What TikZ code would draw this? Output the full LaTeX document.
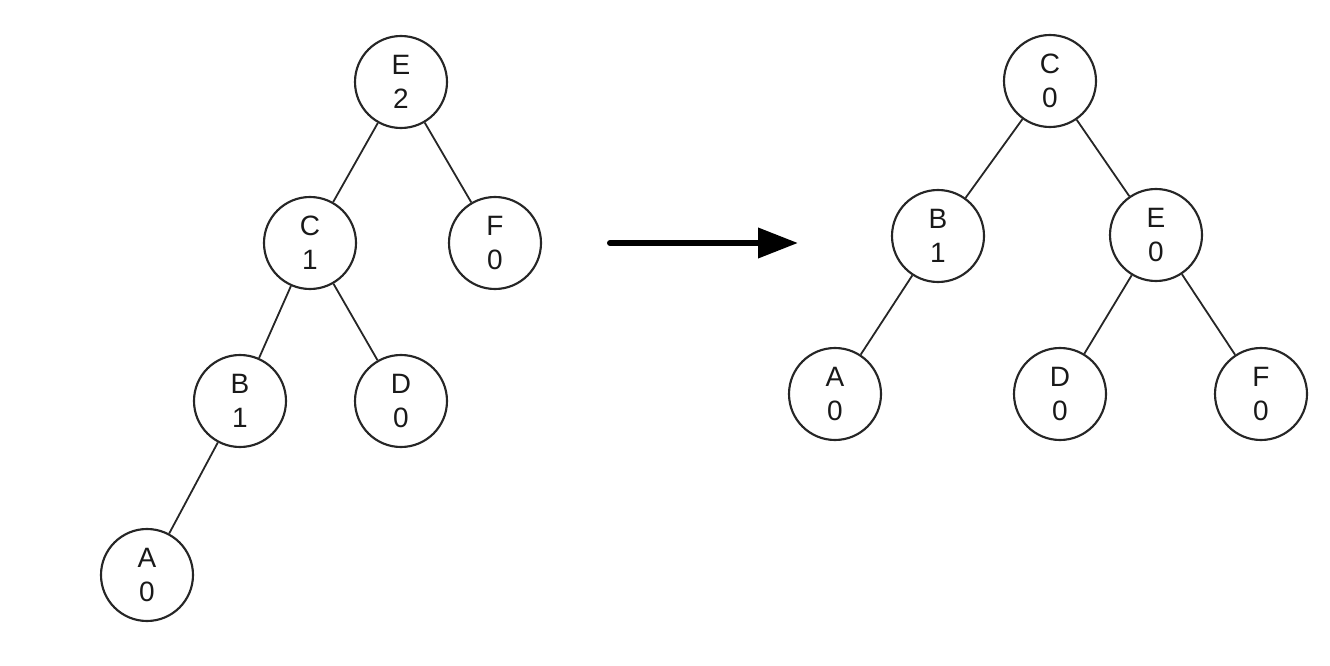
\documentclass[tikz,border=0pt]{standalone}
\usepackage{fontspec}
\setmainfont{Liberation Sans}
\usetikzlibrary{arrows.meta}
\begin{document}
\begin{tikzpicture}[x=0.75pt,y=-0.75pt,
  tnode/.style={circle,draw=black!85,line width=1.6pt,minimum size=69pt,inner sep=0pt,
    align=center,font=\fontsize{21}{25.5}\selectfont,text=black!90},
  tedge/.style={draw=black!85,line width=1.35pt},
  bigarrow/.style={line width=4.5pt,line cap=round,-{Triangle[length=30pt,width=22pt]}}]
\useasboundingbox (0,0) rectangle (1330,666);
% left tree
\node[tnode] (lE) at (401,82) {E\\2};
\node[tnode] (lC) at (310,243) {C\\1};
\node[tnode] (lF) at (495,243) {F\\0};
\node[tnode] (lB) at (240,401) {B\\1};
\node[tnode] (lD) at (401,401) {D\\0};
\node[tnode] (lA) at (147,575) {A\\0};
\draw[tedge] (lE) -- (lC);
\draw[tedge] (lE) -- (lF);
\draw[tedge] (lC) -- (lB);
\draw[tedge] (lC) -- (lD);
\draw[tedge] (lB) -- (lA);
% arrow
\coordinate (a1) at (610,243);
\coordinate (a2) at (798,243);
\draw[bigarrow] (a1) -- (a2);
% right tree
\node[tnode] (rC) at (1050,81) {C\\0};
\node[tnode] (rB) at (938,236) {B\\1};
\node[tnode] (rE) at (1156,235) {E\\0};
\node[tnode] (rA) at (835,394) {A\\0};
\node[tnode] (rD) at (1060,394) {D\\0};
\node[tnode] (rF) at (1261,394) {F\\0};
\draw[tedge] (rC) -- (rB);
\draw[tedge] (rC) -- (rE);
\draw[tedge] (rB) -- (rA);
\draw[tedge] (rE) -- (rD);
\draw[tedge] (rE) -- (rF);
\end{tikzpicture}
\end{document}
